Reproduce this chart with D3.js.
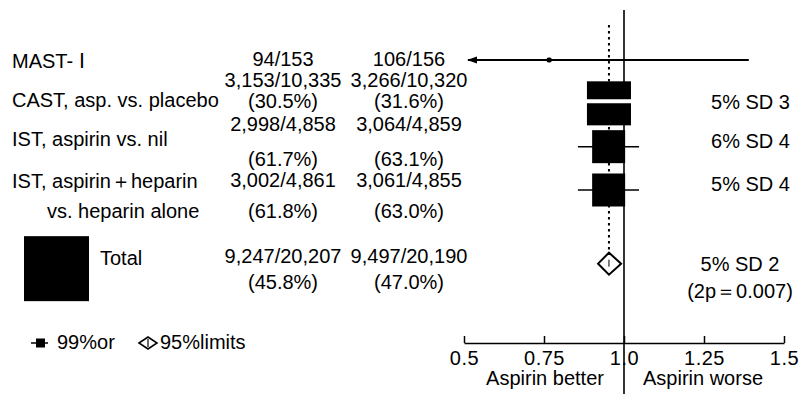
<!DOCTYPE html>
<html>
<head>
<meta charset="utf-8">
<script src="https://cdn.jsdelivr.net/npm/d3@7"></script>
<style>
    html, body { margin: 0; padding: 0; background: #fff; }
    svg text { font-family: "Liberation Sans", Arial, sans-serif; fill: #000; }
</style>
</head>
<body>
<div id="chart"></div>
<script>
const studyLabels = [["MAST- \u2160"], ["CAST, asp. vs. placebo"], ["IST, aspirin vs. nil"], ["IST, aspirin\uFF0Bheparin", "vs. heparin alone"]];
const aspirinEvents = ["94/153", "3,153/10,335", "2,998/4,858", "3,002/4,861"];
const aspirinPct = [null, "(30.5%)", "(61.7%)", "(61.8%)"];
const controlEvents = ["106/156", "3,266/10,320", "3,064/4,859", "3,061/4,855"];
const controlPct = [null, "(31.6%)", "(63.1%)", "(63.0%)"];
const oddsRatio = [0.766, 0.953, 0.952, 0.952];
const ciLow = [0.37, 0.89, 0.856, 0.856];
const ciHigh = [1.39, 1.02, 1.047, 1.047];
const weights = [0.025, 1.78, 1, 1];
const reductions = [null, "5% SD 3", "6% SD 4", "5% SD 4"];

const totalLabel = "Total";
const totalAspirin = ["9,247/20,207", "(45.8%)"];
const totalControl = ["9,497/20,190", "(47.0%)"];
const totalOR = 0.953;
const totalLow = 0.919;
const totalHigh = 0.991;
const totalWeight = 3.88;
const totalReduction = ["5% SD 2", "(2p\uFF1D0.007)"];

const xTicks = [0.5, 0.75, 1.0, 1.25, 1.5];
const xTickLabels = ["0.5", "0.75", "1.0", "1.25", "1.5"];
const axisCaptions = ["Aspirin better", "Aspirin worse"];
const legendLabels = ["99%or", "95%limits"];

const width = 800;
const height = 394;
const fontSize = 20;

// text baselines per row (label lines, number lines, reduction lines)
const textLayout = [
    { label: [68], nums: [66], red: [] },
    { label: [107], nums: [87, 108], red: [109] },
    { label: [146], nums: [131, 166], red: [148] },
    { label: [188, 218], nums: [187, 218], red: [191] }
];

const svg = d3.select("#chart").append("svg")
    .attr("width", width)
    .attr("height", height)
    .attr("viewBox", [0, 0, width, height]);

const x = d3.scaleLinear().domain([0.5, 1.5]).range([464, 784]);
const yRow = d3.scaleLinear().domain([0, 3]).range([60, 190]);
const side = d3.scaleSqrt().domain([0, 1]).range([0, 33]);
const totalY = yRow(4.7);
const axisY = 343;

const labelX = 12;
const col1 = 283;
const col2 = 409;

function addText(t, xPos, yPos, anchor) {
    svg.append("text")
        .attr("x", xPos)
        .attr("y", yPos)
        .attr("text-anchor", anchor || "start")
        .attr("font-size", fontSize)
        .text(t);
}

// left table
studyLabels.forEach((lines, i) => {
    const lay = textLayout[i];
    lines.forEach((l, j) => addText(l, j === 0 ? labelX : 47, lay.label[j]));
    addText(aspirinEvents[i], col1, lay.nums[0], "middle");
    addText(controlEvents[i], col2, lay.nums[0], "middle");
    if (aspirinPct[i]) addText(aspirinPct[i], col1, lay.nums[1], "middle");
    if (controlPct[i]) addText(controlPct[i], col2, lay.nums[1], "middle");
    if (reductions[i]) addText(reductions[i], 790, lay.red[0], "end");
});

// total rows
const totalSide = side(totalWeight);
svg.append("rect")
    .attr("x", 24)
    .attr("y", totalY - totalSide / 2 + 5)
    .attr("width", totalSide)
    .attr("height", totalSide)
    .attr("fill", "#000");
addText(totalLabel, 100, 265);
addText(totalAspirin[0], col1, 263, "middle");
addText(totalAspirin[1], col1, 289, "middle");
addText(totalControl[0], col2, 263, "middle");
addText(totalControl[1], col2, 289, "middle");
addText(totalReduction[0], 740, 271, "middle");
addText(totalReduction[1], 740, 298, "middle");

// reference lines
svg.append("line")
    .attr("x1", x(1)).attr("x2", x(1))
    .attr("y1", 10).attr("y2", height)
    .attr("stroke", "#000").attr("stroke-width", 1.6);

svg.append("line")
    .attr("x1", x(totalOR)).attr("x2", x(totalOR))
    .attr("y1", 25).attr("y2", totalY - 11)
    .attr("stroke", "#000").attr("stroke-width", 2)
    .attr("stroke-dasharray", "2.5,3.5");

// CI lines (clipped to axis domain)
const rows = oddsRatio.map((or, i) => ({ or, lo: ciLow[i], hi: ciHigh[i], w: weights[i], y: yRow(i) }));
const [dMin, dMax] = x.domain();

svg.append("g")
    .selectAll("line")
    .data(rows)
    .join("line")
    .attr("x1", (d) => x(Math.max(d.lo, dMin)) + (d.lo < dMin ? 4 : 0))
    .attr("x2", (d) => x(Math.min(d.hi, dMax)))
    .attr("y1", (d) => d.y)
    .attr("y2", (d) => d.y)
    .attr("stroke", "#000")
    .attr("stroke-width", (d, i) => i === 0 ? 2 : 1.5);

// arrows for CIs beyond the axis
svg.append("g")
    .selectAll("path")
    .data(rows.filter((d) => d.lo < dMin))
    .join("path")
    .attr("d", (d) => {
        const x0 = x(dMin) + 3;
        return `M${x0},${d.y} L${x0 + 10},${d.y - 3.5} L${x0 + 10},${d.y + 3.5} Z`;
    })
    .attr("fill", "#000");

// boxes
svg.append("g")
    .selectAll("rect")
    .data(rows)
    .join("rect")
    .attr("x", (d) => x(d.or) - side(d.w) / 2)
    .attr("y", (d) => d.y - side(d.w) / 2)
    .attr("width", (d) => side(d.w))
    .attr("height", (d) => side(d.w))
    .attr("rx", (d) => d.w < 0.1 ? 2 : 0)
    .attr("fill", "#000");

// print gap through the CAST box
svg.append("line")
    .attr("x1", x(oddsRatio[1]) - side(weights[1]) / 2 - 1)
    .attr("x2", x(oddsRatio[1]) + side(weights[1]) / 2 + 1)
    .attr("y1", yRow(1) - 2).attr("y2", yRow(1) - 2)
    .attr("stroke", "#fff").attr("stroke-width", 4);

// total diamond
const dh = 11;
svg.append("path")
    .attr("d", `M${x(totalLow)},${totalY} L${x(totalOR)},${totalY - dh} L${x(totalHigh)},${totalY} L${x(totalOR)},${totalY + dh} Z`)
    .attr("fill", "#fff")
    .attr("stroke", "#000")
    .attr("stroke-width", 2);
svg.append("line")
    .attr("x1", x(totalOR)).attr("x2", x(totalOR))
    .attr("y1", totalY - 4).attr("y2", totalY + 3)
    .attr("stroke", "#000").attr("stroke-width", 1);

// x axis
const axis = svg.append("g")
    .attr("transform", `translate(0, ${axisY})`)
    .call(d3.axisTop(x).tickValues(xTicks).tickSize(7).tickSizeOuter(0).tickFormat((d, i) => xTickLabels[i]));
axis.select(".domain").attr("stroke", "#000").attr("stroke-width", 1.6);
axis.selectAll(".tick line").attr("stroke", "#000").attr("stroke-width", 1.5);
axis.selectAll(".tick text")
    .attr("y", 22)
    .attr("dy", 0)
    .attr("font-size", fontSize)
    .attr("letter-spacing", 0.5)
    .attr("fill", "#000");

addText(axisCaptions[0], 545, 385, "middle");
addText(axisCaptions[1], 703, 385, "middle");

// legend
svg.append("line")
    .attr("x1", 31).attr("x2", 48)
    .attr("y1", 343).attr("y2", 343)
    .attr("stroke", "#000").attr("stroke-width", 1.5);
svg.append("rect")
    .attr("x", 36).attr("y", 338.5)
    .attr("width", 9).attr("height", 9)
    .attr("fill", "#000");
addText(legendLabels[0], 57, 349);
svg.append("path")
    .attr("d", "M139,343 L148,337 L157,343 L148,349 Z")
    .attr("fill", "#fff").attr("stroke", "#000").attr("stroke-width", 1.6);
svg.append("line")
    .attr("x1", 148).attr("x2", 148).attr("y1", 339).attr("y2", 347)
    .attr("stroke", "#000").attr("stroke-width", 1.2);
addText(legendLabels[1], 160, 349);
</script>
</body>
</html>
